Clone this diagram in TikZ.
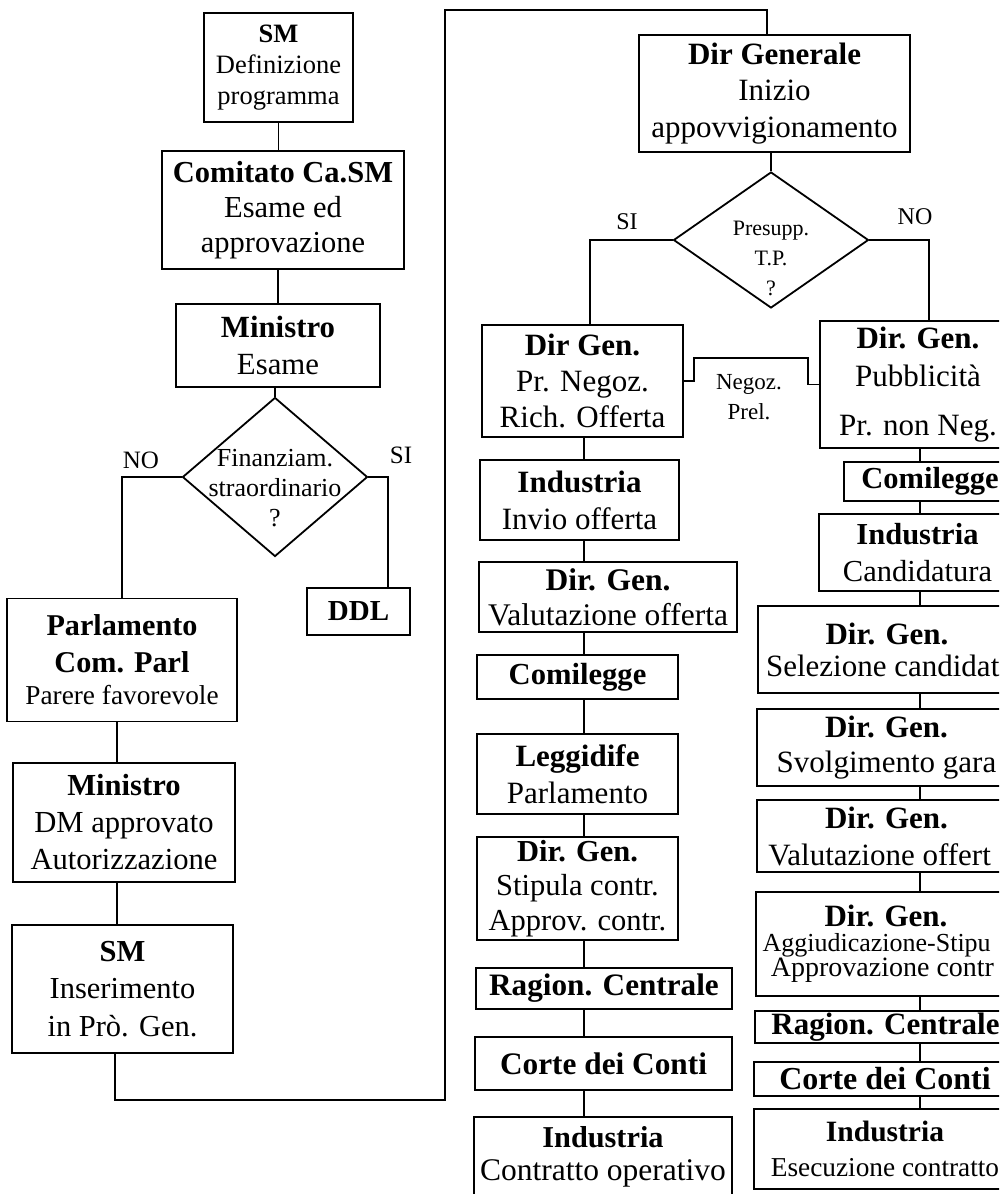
\documentclass[tikz,border=0pt]{standalone}
\usepackage{fontspec}
\setmainfont{Liberation Serif}
\usetikzlibrary{shapes.geometric}
\newcommand\fsz[2]{\fontsize{#1}{#2}\selectfont}
\begin{document}
\begin{tikzpicture}[x=1pt,y=-1pt,
  box/.style={draw,line width=1.8pt,inner sep=0pt,align=center},
  dec/.style={draw,diamond,line width=1.8pt,inner sep=0pt},
  conn/.style={line width=1.8pt},
  lbl/.style={inner sep=0pt,align=center}]
\useasboundingbox (0,0) rectangle (999,1194);
\clip (0,0) rectangle (999,1194);
% ---------- left half ----------
\node[box,minimum width=149pt,minimum height=109pt,font=\fsz{26.5}{31}] (smA) at (278.5,67.5) {\textbf{SM}\\Definizione\\programma};
\node[box,minimum width=242pt,minimum height=118pt,font=\fsz{30.5}{35}] (comit) at (283,210) {\textbf{Comitato Ca.SM}\\Esame ed\\approvazione};
\node[box,minimum width=204pt,minimum height=83pt,font=\fsz{30.8}{37}] (minA) at (278,345.5) {\textbf{Ministro}\\Esame};
\node[dec,minimum width=185pt,minimum height=159pt] (dia1) at (275,477) {};
\node[lbl,font=\fsz{26}{30}] (dia1t) at (275,488) {Finanziam.\\straordinario\\?};
\node[lbl,font=\fsz{25}{30}] (no1) at (141,460) {NO};
\node[lbl,font=\fsz{25}{30}] (si1) at (401,455) {SI};
\node[box,minimum width=103pt,minimum height=47pt,font=\fsz{29}{35}] (ddl) at (358.5,611.5) {\textbf{DDL}};
\node[box,minimum width=230pt,minimum height=123pt,font=\fsz{30.2}{37}\bfseries] (parl) at (122,660) {Parlamento\\Com. Parl\\[-5pt]{\fsz{27.3}{37}\mdseries Parere favorevole}};
\node[box,minimum width=222pt,minimum height=119pt,font=\fsz{30.6}{37}] (minB) at (124,822.5) {\textbf{Ministro}\\DM approvato\\Autorizzazione};
\node[box,minimum width=221pt,minimum height=128pt,font=\fsz{30.5}{37.5}] (smB) at (122.5,989) {\textbf{SM}\\Inserimento\\in Prò. Gen.};
% ---------- right half ----------
\node[box,minimum width=271pt,minimum height=117pt,font=\fsz{31}{36.5}] (dirgen) at (774.5,93.5) {\textbf{Dir Generale}\\Inizio\\appovvigionamento};
\node[dec,minimum width=195pt,minimum height=136pt] (dia2) at (771,240) {};
\node[lbl,font=\fsz{22}{30}] (dia2t) at (771,258) {Presupp.\\T.P.\\?};
\node[lbl,font=\fsz{24}{30}] (si2) at (627,222) {SI};
\node[lbl,font=\fsz{24}{30}] (no2) at (915,217) {NO};
\node[box,minimum width=201pt,minimum height=112pt,font=\fsz{31}{36}] (dg1) at (582.5,381) {\textbf{Dir Gen.}\\Pr. Negoz.\\Rich. Offerta};
\node[lbl,font=\fsz{23}{30}] (neg) at (749,397.5) {Negoz.\\Prel.};
\node[box,minimum width=199pt,minimum height=80pt,font=\fsz{31}{37}] (ind1) at (579.5,500) {\textbf{Industria}\\Invio offerta};
\node[box,minimum width=258pt,minimum height=70pt,font=\fsz{31.5}{35}] (val1) at (608,597) {\textbf{Dir. Gen.}\\Valutazione offerta};
\node[box,minimum width=201pt,minimum height=44pt,font=\fsz{30.6}{35}] (com1) at (577.5,677) {\textbf{Comilegge}};
\node[box,minimum width=201pt,minimum height=80pt,font=\fsz{31}{37}] (leg) at (577.5,774) {\textbf{Leggidife}\\Parlamento};
\node[box,minimum width=201pt,minimum height=103pt,font=\fsz{30.5}{34.5}] (stip) at (577.5,888.5) {\textbf{Dir. Gen.}\\Stipula contr.\\Approv. contr.};
\node[box,minimum width=256pt,minimum height=41pt,font=\fsz{31.2}{35}] (rag1) at (604,988.5) {\textbf{Ragion. Centrale}};
\node[box,minimum width=257pt,minimum height=53pt,font=\fsz{31.3}{35}] (cor1) at (603.5,1063.5) {\textbf{Corte dei Conti}};
\node[box,minimum width=258pt,minimum height=79pt,font=\fsz{31.5}{33}] (indB) at (603,1156.5) {{\fsz{30.3}{33}\bfseries Industria}\\Contratto operativo};
% right column
\node[box,minimum width=196pt,minimum height=127pt,font=\fsz{31}{38}] (pub) at (918,384.5) {\textbf{Dir. Gen.}\\Pubblicità\\[11pt]Pr. non Neg.};
\node[box,minimum width=172pt,minimum height=39pt,font=\fsz{30.5}{35}] (comR) at (930,481.5) {\textbf{Comilegge}};
\node[box,minimum width=197pt,minimum height=77pt,font=\fsz{30.5}{37}] (indR) at (917.5,552.5) {\textbf{Industria}\\Candidatura};
\node[box,minimum width=258pt,minimum height=87pt,font=\fsz{31}{32}] (sel) at (887,649.5) {\textbf{Dir. Gen.}\\Selezione candidat\phantom{i}};
\node[box,minimum width=259pt,minimum height=77pt,font=\fsz{31}{35}] (svo) at (886.5,747.5) {\textbf{Dir. Gen.}\\Svolgimento gara};
\node[box,minimum width=259pt,minimum height=72pt,font=\fsz{31}{37}] (valR) at (886.5,836) {\textbf{Dir. Gen.}\\Valutazione offert\phantom{a}};
\node[box,minimum width=260pt,minimum height=104pt,font=\fsz{26}{25}] (agg) at (886,944) {{\fsz{31}{25}\bfseries Dir. Gen.}\\Aggiudicazione-Stipu\phantom{la}\\{\fsz{28}{25}Approvazione contr\phantom{.}}};
\node[box,minimum width=261pt,minimum height=32pt,font=\fsz{31}{35}] (ragR) at (885.5,1027) {\textbf{Ragion. Centrale}};
\node[box,minimum width=262pt,minimum height=34pt,font=\fsz{32}{35}] (corR) at (885,1079) {\textbf{Corte dei Conti}};
\node[box,minimum width=262pt,minimum height=80pt,font=\fsz{27.3}{35}] (indR2) at (885,1149) {{\fsz{29.5}{35}\bfseries Industria}\\Esecuzione contratto};
% ---------- connectors ----------
\coordinate (cL) at (117,0);
\coordinate (cM) at (584,0);
\coordinate (cR) at (920,0);
\draw[conn] (smA.south) -- (smA.south |- comit.north);
\draw[conn] (minA.north |- comit.south) -- (minA.north);
\draw[conn] (dia1.north |- minA.south) -- (dia1.north);
\draw[conn] (dia1.west) -| (parl.north);
\draw[conn] (dia1.east) -| ([xshift=29.5pt]ddl.north);
\draw[conn] (parl.south -| cL) -- (minB.north -| cL);
\draw[conn] (minB.south -| cL) -- (smB.north -| cL);
\coordinate (lpA) at (445,1100);
\coordinate (lpB) at (445,10);
\draw[conn] ([xshift=-7.5pt]smB.south) |- (lpA) -- (lpB) -| ([xshift=-7.5pt]dirgen.north);
\draw[conn] (dia2.north |- dirgen.south) -- (dia2.north);
\draw[conn] (dia2.west) -| ([xshift=7.5pt]dg1.north);
\draw[conn] (dia2.east) -| ([xshift=11pt]pub.north);
\coordinate (nbA) at (694,358);
\coordinate (nbB) at (808,358);
\draw[conn] (dg1.east) -| (nbA) -- (nbB) |- (pub.west);
\foreach \a/\b in {dg1/ind1,ind1/val1,val1/com1,com1/leg,leg/stip,stip/rag1,rag1/cor1,cor1/indB}
  \draw[conn] (\a.south -| cM) -- (\b.north -| cM);
\foreach \a/\b in {pub/comR,comR/indR,indR/sel,sel/svo,svo/valR,valR/agg,agg/ragR,ragR/corR,corR/indR2}
  \draw[conn] (\a.south -| cR) -- (\b.north -| cR);
\end{tikzpicture}
\end{document}
